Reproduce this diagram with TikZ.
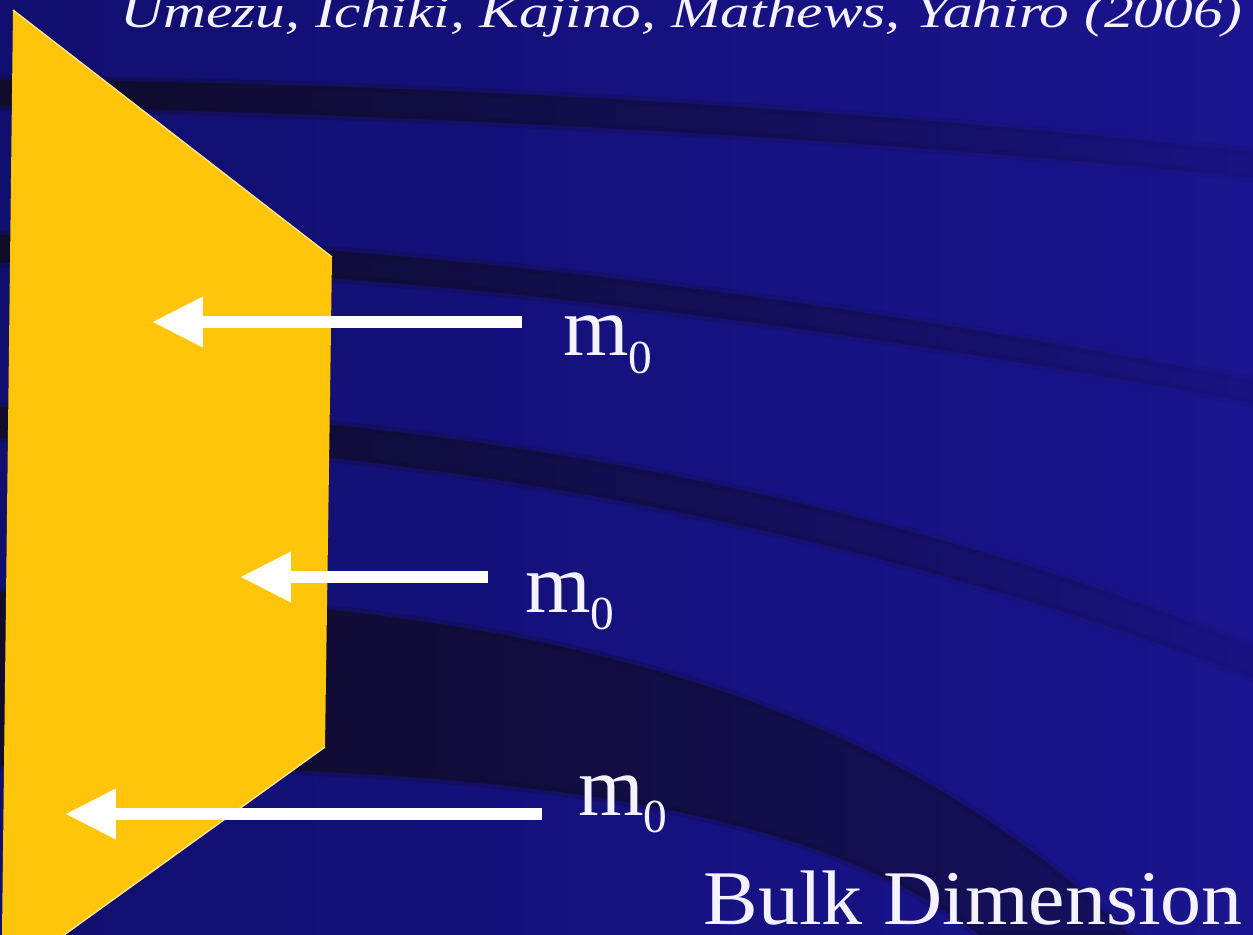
\documentclass[tikz,border=0pt]{standalone}
\usepackage{fontspec}
\setmainfont{Liberation Serif}
\usetikzlibrary{arrows.meta,fadings}
\definecolor{bgleft}{RGB}{16,14,110}
\definecolor{bgright}{RGB}{26,20,142}
\definecolor{bandc}{RGB}{16,12,42}
\definecolor{gold}{RGB}{255,197,10}
\definecolor{txt}{RGB}{245,242,255}
\tikzfading[name=fadeR, left color=transparent!0, right color=transparent!90]
\tikzfading[name=fadeD, left color=transparent!0, right color=transparent!55]
\tikzset{
  arr/.style={draw=white, line width=6.6pt, -{Triangle[length=29pt,width=27pt]}},
  lab/.style={anchor=base west, inner sep=0pt, text=txt, font=\fontsize{48}{50}\selectfont},
  bandfill/.style={fill=bandc, draw=bandc, line width=5pt, draw opacity=0.35, path fading=fadeR},
}
\newcommand{\mzero}{m\raisebox{-10pt}{\fontsize{27}{28}\selectfont 0}}
\begin{document}
\begin{tikzpicture}[x=0.02cm,y=-0.02cm]
\useasboundingbox (0,0) rectangle (1253,935);
% background
\shade[left color=bgleft, right color=bgright] (0,0) rectangle (1253,935);
% dark curved bands
\fill[bandfill] (0,80) .. controls (400,82) and (850,107) .. (1253,152) -- (1253,178) .. controls (850,136) and (400,114) .. (0,106) -- cycle;
\fill[bandfill] (0,235) .. controls (450,242) and (900,312) .. (1253,380) -- (1253,403) .. controls (900,338) and (450,270) .. (0,263) -- cycle;
\fill[bandfill] (0,407) .. controls (450,410) and (900,502) .. (1253,647) -- (1253,678) .. controls (900,543) and (450,443) .. (0,438) -- cycle;
\fill[fill=bandc, draw=bandc, line width=5pt, draw opacity=0.35, path fading=fadeD] (0,592) .. controls (450,597) and (850,662) .. (1130,935) -- (980,935) .. controls (800,800) and (500,765) .. (0,765) -- cycle;
% yellow brane
\fill[gold] (13,10) -- (332,257) -- (325,747) -- (64,935) -- (2,935) -- cycle;
\draw[gold!45!white, line width=0.8pt] (13,10) -- (332,257);
\draw[gold!45!white, line width=0.8pt] (325,747) -- (64,935);
% title
\node[anchor=base west, inner sep=0pt, text=txt, xscale=1.30, font=\fontsize{26}{27}\selectfont\itshape] (title) at (120,28) {Umezu, Ichiki, Kajino, Mathews, Yahiro (2006)};
% arrows and labels
\coordinate (s1) at (522,322); \coordinate (t1) at (152,322);
\coordinate (s2) at (488,577); \coordinate (t2) at (240,577);
\coordinate (s3) at (542,814); \coordinate (t3) at (65,814);
\draw[arr] (s1) -- (t1);
\draw[arr] (s2) -- (t2);
\draw[arr] (s3) -- (t3);
\node[lab] (m1) at (563,356) {\mzero};
\node[lab] (m2) at (525,612) {\mzero};
\node[lab] (m3) at (578,815) {\mzero};
\node[anchor=base west, inner sep=0pt, text=txt, xscale=1.06, font=\fontsize{44}{46}\selectfont] (bulk) at (703,924) {Bulk Dimension};
\end{tikzpicture}
\end{document}
